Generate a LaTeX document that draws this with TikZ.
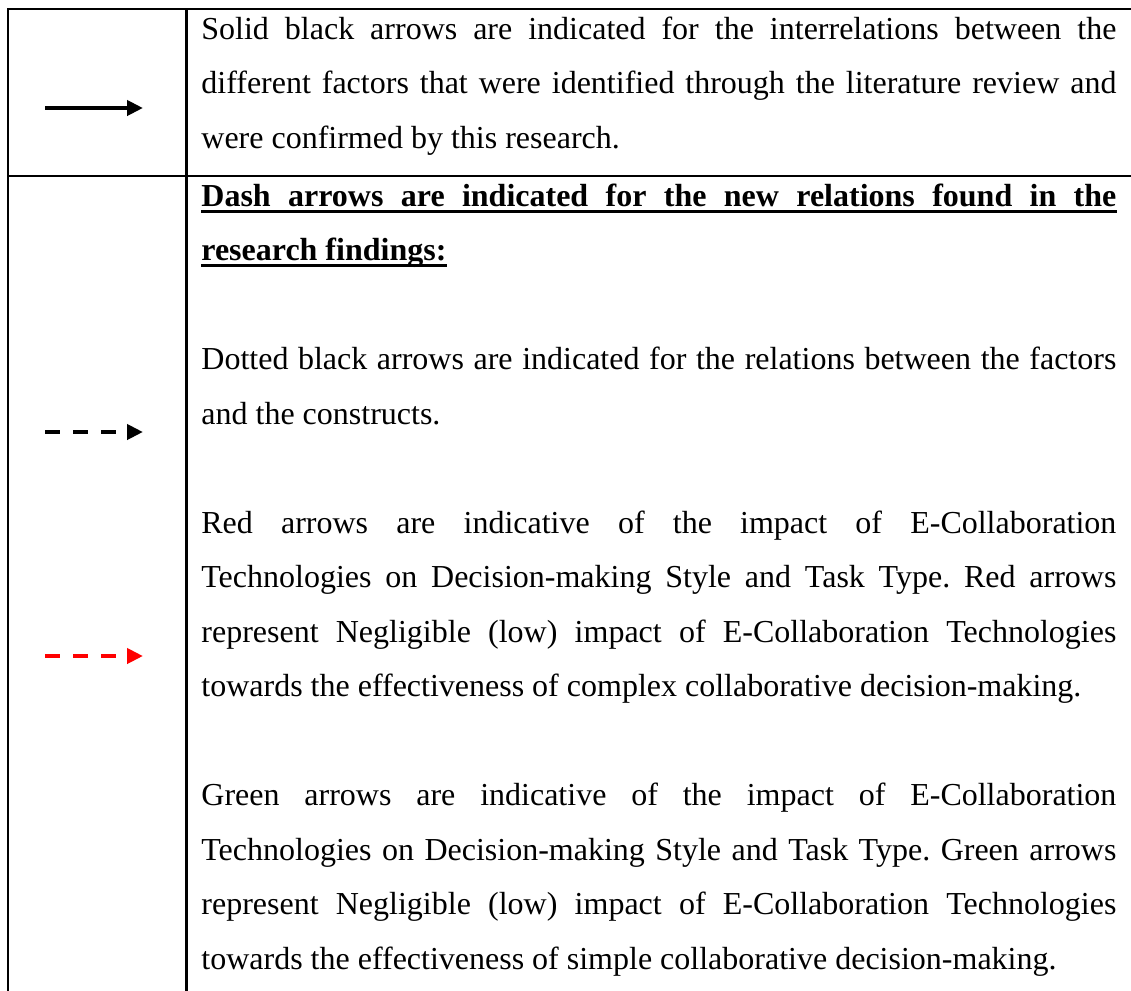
\documentclass[tikz,border=0pt]{standalone}
\usepackage{fontspec}
\setmainfont{Liberation Serif}
\usetikzlibrary{arrows.meta}
\frenchspacing
% a line of text stretched to the full column width
\newcommand\fullline[1]{\makebox[457.5pt][s]{#1}}
\begin{document}
\begin{tikzpicture}[x=0.5pt,y=-0.5pt,
  rule/.style={line width=1.1pt},
  txt/.style={anchor=base west,inner sep=0pt,font=\fontsize{16}{27}\selectfont},
  headtxt/.style={txt,font=\fontsize{16}{27}\selectfont\bfseries},
  headrule/.style={line width=1.6pt},
  legendarrow/.style={line width=2pt,-{Triangle[length=8pt,width=7.5pt]}},
  dashy/.style={dash pattern=on 7.5pt off 6.5pt}]
\useasboundingbox (0,0) rectangle (1131,991);

% table rules (open on the right and at the bottom)
\draw[rule] (7,9) -- (1131,9);
\draw[rule] (7,176) -- (1131,176);
\draw[rule] (8,9) -- (8,991);
\draw[rule] (186.5,9) -- (186.5,991);

% legend arrows
\coordinate (s0) at (45,108);  \coordinate (s1) at (143,108);
\coordinate (d0) at (45,432);  \coordinate (d1) at (143,432);
\coordinate (r0) at (45,656);  \coordinate (r1) at (143,656);
\draw[legendarrow] (s0) -- (s1);
\draw[legendarrow,dashy] (d0) -- (d1);
\draw[legendarrow,dashy,red] (r0) -- (r1);

% first row
\node[txt] (a1) at (201,39)   {\fullline{Solid black arrows are indicated for the interrelations between the}};
\node[txt] (a2) at (201,93.5) {\fullline{different factors that were identified through the literature review and}};
\node[txt] (a3) at (201,148)  {were confirmed by this research.};

% second row: heading
\node[headtxt] (h1) at (201,206)   {\fullline{Dash arrows are indicated for the new relations found in the}};
\node[headtxt] (h2) at (201,260.5) {research findings:};
\draw[headrule] ([yshift=-2.6pt]h1.base west) -- ([yshift=-2.6pt]h1.base east);
\draw[headrule] ([yshift=-2.6pt]h2.base west) -- ([yshift=-2.6pt]h2.base east);

% dotted black arrows
\node[txt] (b1) at (201,369.5) {\fullline{Dotted black arrows are indicated for the relations between the factors}};
\node[txt] (b2) at (201,424)   {and the constructs.};

% red arrows
\node[txt] (c1) at (201,533)   {\fullline{Red arrows are indicative of the impact of E-Collaboration}};
\node[txt] (c2) at (201,587.5) {\fullline{Technologies on Decision-making Style and Task Type. Red arrows}};
\node[txt] (c3) at (201,642)   {\fullline{represent Negligible (low) impact of E-Collaboration Technologies}};
\node[txt] (c4) at (201,696.5) {towards the effectiveness of complex collaborative decision-making.};

% green arrows
\node[txt] (g1) at (201,805.5) {\fullline{Green arrows are indicative of the impact of E-Collaboration}};
\node[txt] (g2) at (201,860)   {\fullline{Technologies on Decision-making Style and Task Type. Green arrows}};
\node[txt] (g3) at (201,914.5) {\fullline{represent Negligible (low) impact of E-Collaboration Technologies}};
\node[txt] (g4) at (201,969)   {towards the effectiveness of simple collaborative decision-making.};
\end{tikzpicture}
\end{document}
